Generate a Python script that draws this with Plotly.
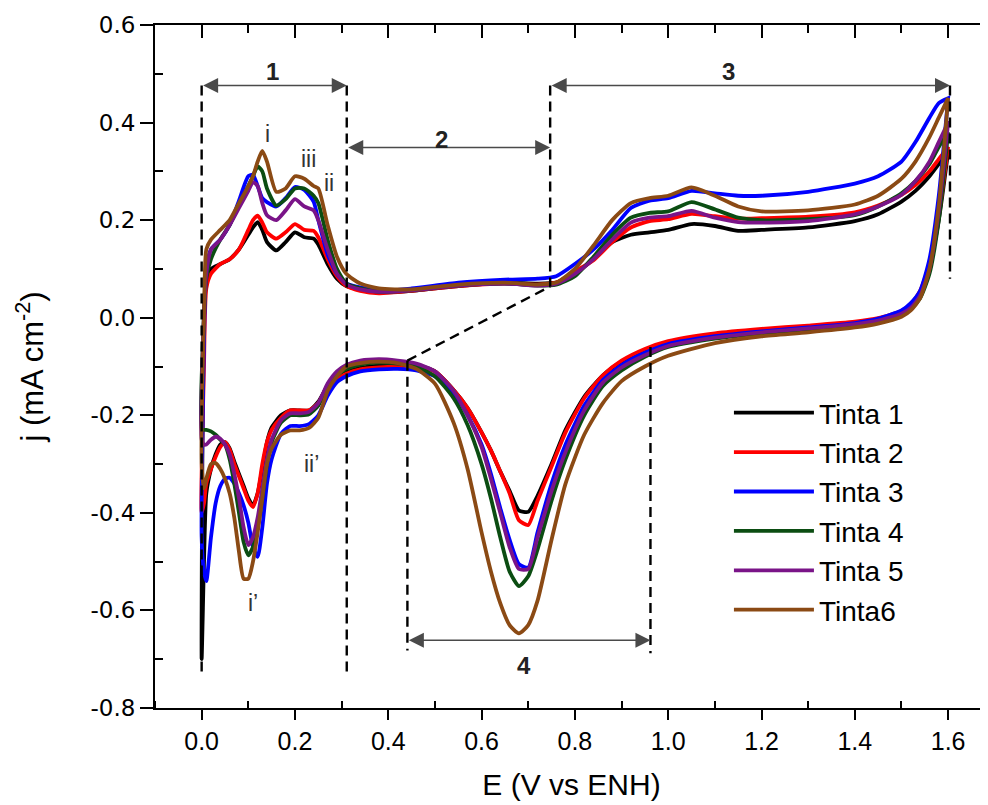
import plotly.graph_objects as go

# ---------------- data ----------------
series_names = ["Tinta 1", "Tinta 2", "Tinta 3", "Tinta 4", "Tinta 5", "Tinta6"]
series_colors = ["#000000", "#ff0000", "#0000ff", "#0b4d12", "#7a1488", "#8b4a14"]

# anodic sweep potentials (V vs ENH)
E_anodic = [0.0, 0.005, 0.01, 0.02, 0.04, 0.06, 0.08, 0.10, 0.11, 0.12, 0.13, 0.14, 0.16, 0.18,
            0.20, 0.22, 0.24, 0.25, 0.27, 0.29, 0.31, 0.34, 0.38, 0.45, 0.55, 0.65, 0.72, 0.76,
            0.80, 0.84, 0.88, 0.92, 0.96, 1.00, 1.05, 1.10, 1.15, 1.20, 1.30, 1.40, 1.45, 1.50,
            1.53, 1.56, 1.58, 1.60]
# cathodic sweep potentials
E_cathodic = [1.60, 1.58, 1.56, 1.54, 1.52, 1.50, 1.45, 1.40, 1.30, 1.20, 1.10, 1.00, 0.95, 0.90,
              0.86, 0.82, 0.78, 0.75, 0.72, 0.70, 0.68, 0.66, 0.64, 0.62, 0.60, 0.57, 0.54, 0.50,
              0.46, 0.42, 0.38, 0.34, 0.31, 0.29, 0.27, 0.25, 0.23, 0.21, 0.19, 0.17, 0.15, 0.14,
              0.13, 0.12, 0.11, 0.10, 0.09, 0.08, 0.07, 0.06, 0.05, 0.04, 0.03, 0.02, 0.01, 0.005, 0.0]

# current density j (mA cm-2), anodic branch
j_anodic_t1 = [-0.70, 0.02, 0.08, 0.10, 0.11, 0.12, 0.14, 0.17, 0.185, 0.196, 0.18, 0.155, 0.138, 0.155,
               0.175, 0.165, 0.162, 0.15, 0.11, 0.08, 0.065, 0.058, 0.052, 0.055, 0.065, 0.072, 0.07, 0.072,
               0.09, 0.12, 0.155, 0.17, 0.175, 0.18, 0.192, 0.188, 0.178, 0.18, 0.185, 0.198, 0.212, 0.238,
               0.26, 0.29, 0.315, 0.34]
j_anodic_t2 = [-0.40, -0.10, 0.06, 0.09, 0.11, 0.12, 0.14, 0.18, 0.20, 0.209, 0.195, 0.175, 0.162, 0.175,
               0.192, 0.18, 0.178, 0.165, 0.12, 0.085, 0.065, 0.055, 0.05, 0.055, 0.065, 0.07, 0.068, 0.072,
               0.095, 0.118, 0.155, 0.185, 0.198, 0.202, 0.213, 0.208, 0.203, 0.204, 0.207, 0.216, 0.23, 0.252,
               0.272, 0.30, 0.325, 0.35]
j_anodic_t3 = [-0.45, -0.05, 0.10, 0.14, 0.16, 0.19, 0.24, 0.29, 0.293, 0.27, 0.245, 0.237, 0.228, 0.245,
               0.268, 0.262, 0.238, 0.20, 0.13, 0.09, 0.07, 0.062, 0.055, 0.06, 0.072, 0.078, 0.08, 0.085,
               0.11, 0.14, 0.18, 0.225, 0.24, 0.245, 0.26, 0.255, 0.25, 0.25, 0.258, 0.275, 0.29, 0.32,
               0.36, 0.41, 0.44, 0.45]
j_anodic_t4 = [-0.23, 0.0, 0.08, 0.12, 0.16, 0.19, 0.23, 0.27, 0.29, 0.31, 0.30, 0.265, 0.23, 0.243,
               0.265, 0.265, 0.25, 0.235, 0.16, 0.10, 0.07, 0.06, 0.053, 0.056, 0.066, 0.07, 0.066, 0.068,
               0.085, 0.125, 0.17, 0.205, 0.215, 0.218, 0.237, 0.222, 0.205, 0.20, 0.202, 0.21, 0.228, 0.255,
               0.28, 0.315, 0.35, 0.38]
j_anodic_t5 = [-0.25, 0.0, 0.09, 0.14, 0.16, 0.19, 0.225, 0.26, 0.278, 0.27, 0.235, 0.21, 0.20, 0.22,
               0.243, 0.228, 0.22, 0.20, 0.14, 0.09, 0.068, 0.058, 0.053, 0.056, 0.066, 0.07, 0.066, 0.07,
               0.09, 0.12, 0.16, 0.195, 0.205, 0.208, 0.219, 0.205, 0.196, 0.195, 0.198, 0.212, 0.228, 0.252,
               0.28, 0.32, 0.36, 0.40]
j_anodic_t6 = [-0.30, 0.0, 0.14, 0.16, 0.18, 0.20, 0.235, 0.27, 0.29, 0.32, 0.342, 0.32, 0.258, 0.265,
               0.29, 0.285, 0.27, 0.265, 0.19, 0.125, 0.09, 0.07, 0.06, 0.058, 0.068, 0.072, 0.068, 0.072,
               0.10, 0.148, 0.20, 0.235, 0.245, 0.25, 0.267, 0.25, 0.228, 0.218, 0.22, 0.232, 0.25, 0.285,
               0.32, 0.37, 0.41, 0.45]

# cathodic branch
j_cathodic_t1 = [0.34, 0.2, 0.105, 0.05, 0.025, 0.012, -0.003, -0.01, -0.018, -0.025,
                 -0.034, -0.05, -0.066, -0.09, -0.118, -0.162, -0.23, -0.3, -0.365, -0.398,
                 -0.395, -0.355, -0.315, -0.272, -0.235, -0.185, -0.148, -0.11, -0.097, -0.097,
                 -0.098, -0.103, -0.112, -0.122, -0.14, -0.172, -0.19, -0.19, -0.19, -0.2,
                 -0.225, -0.255, -0.31, -0.36, -0.385, -0.37, -0.345, -0.32, -0.295, -0.268,
                 -0.255, -0.26, -0.28, -0.31, -0.36, -0.5, -0.70]
j_cathodic_t2 = [0.35, 0.21, 0.11, 0.055, 0.028, 0.014, -0.001, -0.008, -0.016, -0.023,
                 -0.032, -0.048, -0.064, -0.088, -0.118, -0.165, -0.235, -0.305, -0.375, -0.425,
                 -0.415, -0.36, -0.315, -0.272, -0.235, -0.185, -0.148, -0.11, -0.098, -0.1,
                 -0.102, -0.106, -0.115, -0.125, -0.14, -0.175, -0.19, -0.19, -0.19, -0.205,
                 -0.23, -0.255, -0.3, -0.36, -0.388, -0.375, -0.35, -0.325, -0.3, -0.27,
                 -0.255, -0.265, -0.285, -0.31, -0.34, -0.38, -0.40]
j_cathodic_t3 = [0.45, 0.25, 0.12, 0.055, 0.03, 0.015, -0.002, -0.011, -0.02, -0.028,
                 -0.038, -0.054, -0.072, -0.097, -0.128, -0.18, -0.26, -0.34, -0.44, -0.512,
                 -0.505, -0.455, -0.39, -0.32, -0.26, -0.2, -0.155, -0.12, -0.108, -0.105,
                 -0.106, -0.11, -0.12, -0.132, -0.16, -0.2, -0.218, -0.222, -0.222, -0.238,
                 -0.29, -0.34, -0.43, -0.49, -0.47, -0.42, -0.385, -0.36, -0.34, -0.328,
                 -0.33, -0.345, -0.38, -0.45, -0.54, -0.52, -0.45]
j_cathodic_t4 = [0.38, 0.2, 0.09, 0.04, 0.018, 0.006, -0.008, -0.015, -0.024, -0.032,
                 -0.043, -0.06, -0.08, -0.108, -0.14, -0.2, -0.29, -0.375, -0.475, -0.53,
                 -0.55, -0.52, -0.45, -0.37, -0.3, -0.22, -0.165, -0.12, -0.1, -0.094,
                 -0.092, -0.096, -0.105, -0.118, -0.14, -0.18, -0.198, -0.2, -0.2, -0.215,
                 -0.255, -0.3, -0.37, -0.43, -0.47, -0.487, -0.46, -0.4, -0.34, -0.29,
                 -0.26, -0.25, -0.24, -0.233, -0.23, -0.23, -0.23]
j_cathodic_t5 = [0.40, 0.22, 0.1, 0.045, 0.02, 0.008, -0.006, -0.013, -0.022, -0.03,
                 -0.041, -0.058, -0.077, -0.102, -0.133, -0.19, -0.275, -0.355, -0.45, -0.515,
                 -0.515, -0.47, -0.4, -0.33, -0.265, -0.2, -0.15, -0.11, -0.094, -0.088,
                 -0.085, -0.088, -0.097, -0.11, -0.135, -0.175, -0.193, -0.196, -0.196, -0.21,
                 -0.25, -0.29, -0.35, -0.41, -0.45, -0.466, -0.43, -0.37, -0.32, -0.28,
                 -0.26, -0.248, -0.244, -0.25, -0.26, -0.26, -0.25]
j_cathodic_t6 = [0.45, 0.23, 0.1, 0.04, 0.015, 0.002, -0.012, -0.02, -0.03, -0.038,
                 -0.052, -0.078, -0.1, -0.13, -0.175, -0.24, -0.34, -0.455, -0.58, -0.63,
                 -0.647, -0.63, -0.585, -0.52, -0.44, -0.31, -0.215, -0.135, -0.105, -0.093,
                 -0.09, -0.093, -0.1, -0.12, -0.15, -0.205, -0.226, -0.231, -0.231, -0.24,
                 -0.268, -0.3, -0.37, -0.44, -0.5, -0.535, -0.535, -0.48, -0.41, -0.36,
                 -0.33, -0.31, -0.298, -0.3, -0.33, -0.35, -0.30]

j_anodic = [j_anodic_t1, j_anodic_t2, j_anodic_t3, j_anodic_t4, j_anodic_t5, j_anodic_t6]
j_cathodic = [j_cathodic_t1, j_cathodic_t2, j_cathodic_t3, j_cathodic_t4, j_cathodic_t5, j_cathodic_t6]

y_tick_values = [-0.8, -0.6, -0.4, -0.2, 0.0, 0.2, 0.4, 0.6]
y_tick_labels = ["-0.8", "-0.6", "-0.4", "-0.2", "0.0", "0.2", "0.4", "0.6"]
x_tick_values = [0.0, 0.2, 0.4, 0.6, 0.8, 1.0, 1.2, 1.4, 1.6]
x_tick_labels = ["0.0", "0.2", "0.4", "0.6", "0.8", "1.0", "1.2", "1.4", "1.6"]

# ---------------- figure ----------------
X_RANGE = [-0.1, 1.6855]
Y_RANGE = [-0.8, 0.6]
SANS = "Liberation Sans, Arial, sans-serif"
WIDE = "DejaVu Sans, Verdana, sans-serif"

fig = go.Figure()
for i, name in enumerate(series_names):
    ja, jc = j_anodic[i], j_cathodic[i]
    assert len(ja) == len(E_anodic) and len(jc) == len(E_cathodic)
    fig.add_trace(go.Scatter(
        x=E_anodic + E_cathodic, y=ja + jc, mode="lines", name=name,
        line=dict(color=series_colors[i], width=3.8, shape="spline", smoothing=0.6),
        legendgroup=name, hoverinfo="skip"))

# empty helper traces so the mirrored frame axes get drawn
fig.add_trace(go.Scatter(x=[], y=[], xaxis="x2", yaxis="y", showlegend=False, hoverinfo="skip"))
fig.add_trace(go.Scatter(x=[], y=[], xaxis="x", yaxis="y2", showlegend=False, hoverinfo="skip"))

# dashed guide lines
dash_style = dict(color="black", width=2.4, dash="10px,6px")
guides = [
    (0.0, 0.476, 0.0, -0.735),
    (0.311, 0.476, 0.311, -0.725),
    (0.747, 0.476, 0.747, 0.064),
    (1.604, 0.476, 1.604, 0.08),
    (0.441, -0.088, 0.441, -0.682),
    (0.962, -0.060, 0.962, -0.688),
    (0.441, -0.088, 0.747, 0.064),
]
for x0, y0, x1, y1 in guides:
    fig.add_shape(type="line", xref="x", yref="y", x0=x0, y0=y0, x1=x1, y1=y1, line=dash_style, layer="above")

# double arrows with region numbers
arrows = [
    (0.0, 0.311, 0.476, "1", 0.152, 0.505),
    (0.311, 0.747, 0.349, "2", 0.514, 0.365),
    (0.747, 1.604, 0.476, "3", 1.13, 0.505),
    (0.441, 0.962, -0.661, "4", 0.69, -0.712),
]
annotations = []
for xa, xb, ya, label, lx, ly in arrows:
    annotations.append(dict(
        x=xb, y=ya, ax=xa, ay=ya, xref="x", yref="y", axref="x", ayref="y", text="",
        showarrow=True, arrowside="end+start", arrowhead=2, startarrowhead=2,
        arrowsize=2.0, startarrowsize=2.0, arrowwidth=1.5, arrowcolor="#4a4a4a",
        standoff=0, startstandoff=0))
    annotations.append(dict(x=lx, y=ly, xref="x", yref="y", text="<b>%s</b>" % label, showarrow=False,
                            font=dict(family=SANS, size=24, color="#222222")))

peak_labels = [("i", 0.141, 0.376), ("iii", 0.228, 0.325), ("ii", 0.274, 0.276),
               ("i\u2019", 0.11, -0.585), ("ii\u2019", 0.236, -0.30)]
for txt, lx, ly in peak_labels:
    annotations.append(dict(x=lx, y=ly, xref="x", yref="y", text=txt, showarrow=False,
                            font=dict(family=SANS, size=23, color="#333333")))

axis_common = dict(showgrid=False, zeroline=False, linecolor="black", linewidth=2,
                   tickcolor="black", tickwidth=2)

# the page body adds an 8px offset, so the figure is 8px smaller than the window
fig.update_layout(
    width=980, height=797,
    margin=dict(l=147, r=0, t=17, b=97),
    plot_bgcolor="white", paper_bgcolor="white",
    annotations=annotations,
    legend=dict(x=0.689, y=0.4685, xanchor="left", yanchor="top", bgcolor="rgba(0,0,0,0)",
                font=dict(family=SANS, size=28, color="black"), itemwidth=80,
                tracegroupgap=0, itemclick=False),
    xaxis=dict(range=X_RANGE, tickmode="array", tickvals=x_tick_values, ticktext=x_tick_labels,
               ticks="outside", ticklen=10, showline=True,
               minor=dict(tickmode="linear", tick0=0.1, dtick=0.2, ticks="inside", ticklen=7,
                          tickwidth=2, tickcolor="black"),
               tickfont=dict(family=SANS, size=25, color="black"),
               title=dict(text="E (V vs ENH)", font=dict(family=SANS, size=30, color="black"), standoff=20),
               **axis_common),
    xaxis2=dict(range=X_RANGE, overlaying="x", side="top", anchor="y", showline=True,
                tickmode="array", tickvals=x_tick_values, ticks="inside", ticklen=13,
                showticklabels=False,
                minor=dict(tickmode="linear", tick0=0.1, dtick=0.2, ticks="inside", ticklen=8,
                           tickwidth=2, tickcolor="black"),
                **axis_common),
    yaxis=dict(range=Y_RANGE, tickmode="array", tickvals=y_tick_values, ticktext=y_tick_labels,
               ticks="outside", ticklen=13, showline=True,
               minor=dict(tickmode="linear", tick0=-0.7, dtick=0.2, ticks="inside", ticklen=8,
                          tickwidth=2, tickcolor="black"),
               tickfont=dict(family=WIDE, size=23, color="black"),
               title=dict(text="j (mA cm<sup>-2</sup>)", font=dict(family=SANS, size=31, color="black"),
                          standoff=38),
               **axis_common),
    yaxis2=dict(range=Y_RANGE, overlaying="y", side="right", anchor="x", showline=False,
                tickmode="array", tickvals=y_tick_values, ticks="inside", ticklen=6,
                showticklabels=False, showgrid=False, zeroline=False, tickcolor="black", tickwidth=2),
)

fig.write_html("out.html")
